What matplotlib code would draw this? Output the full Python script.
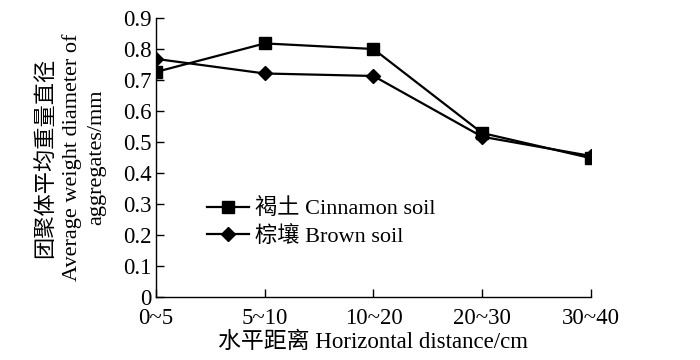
import matplotlib.pyplot as plt

plt.rcParams['font.family'] = ['Liberation Serif', 'Noto Sans CJK SC']

# Data
categories = ["0~5", "5~10", "10~20", "20~30", "30~40"]
cinnamon = [0.726, 0.818, 0.800, 0.529, 0.448]
brown = [0.768, 0.721, 0.713, 0.517, 0.455]

fig = plt.figure(figsize=(7, 3.6), dpi=100)
ax = fig.add_axes([0.223, 0.175, 0.621, 0.775])

x = list(range(len(categories)))
ax.plot(x, cinnamon, color='black', lw=1.6, marker='s', ms=8,
        label='褐土 Cinnamon soil')
ax.plot(x, brown, color='black', lw=1.6, marker='D', ms=7,
        label='棕壤 Brown soil')

ax.set_xlim(0, 4)
ax.set_ylim(0, 0.9)
ax.set_xticks(x)
ax.set_xticklabels(categories)
ax.set_yticks([i / 10 for i in range(10)])
ax.set_yticklabels(['0'] + ['%.1f' % (i / 10) for i in range(1, 10)])
ax.tick_params(direction='in', length=6, width=1, labelsize=16.5)
ax.tick_params(axis='x', pad=8)
ax.tick_params(axis='y', pad=3)
for s in ['top', 'right']:
    ax.spines[s].set_visible(False)
for s in ['left', 'bottom']:
    ax.spines[s].set_linewidth(1)

ax.set_xlabel('水平距离 Horizontal distance/cm', fontsize=16.5, labelpad=2)
ax.set_ylabel('团聚体平均重量直径\nAverage weight diameter of\naggregates/mm',
              fontsize=16, linespacing=1.4, labelpad=12)

ax.legend(loc='upper left', bbox_to_anchor=(0.07, 0.425), frameon=False,
          fontsize=16, handlelength=1.9, handletextpad=0.3, labelspacing=0.3)

fig.savefig('out.png', dpi=100)
